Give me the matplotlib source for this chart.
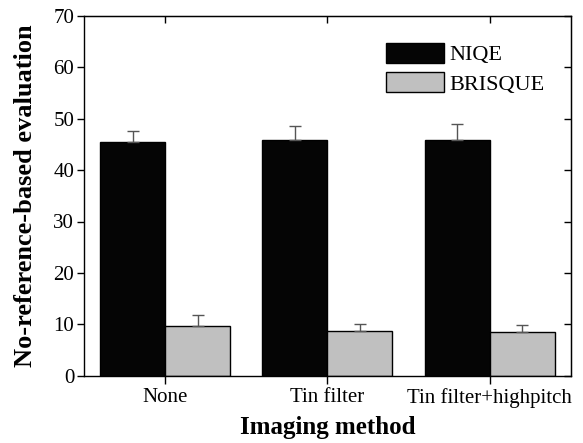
import matplotlib
matplotlib.use("Agg")
import matplotlib.pyplot as plt
import numpy as np

categories = ["None", "Tin filter", "Tin filter+highpitch"]
series_names = ["NIQE", "BRISQUE"]
niqe = [45.4, 45.9, 45.9]
niqe_err = [2.3, 2.7, 3.0]
brisque = [9.7, 8.7, 8.4]
brisque_err = [2.2, 1.4, 1.5]
yticks = [0, 10, 20, 30, 40, 50, 60, 70]

plt.rcParams['font.family'] = ['Liberation Serif', 'DejaVu Serif']

fig = plt.figure(figsize=(5.83, 4.43), dpi=100)
ax = fig.add_axes([0.144, 0.152, 0.835, 0.812])

x = np.arange(len(categories))
w = 0.4
err_kw = dict(ecolor='#555555', elinewidth=1.0, capsize=4, capthick=1.0)
ax.bar(x - w / 2, niqe, w, color='#050505', edgecolor='black', linewidth=1.0,
       yerr=[np.zeros(3), niqe_err], error_kw=err_kw, label=series_names[0])
ax.bar(x + w / 2, brisque, w, color='#c0c0c0', edgecolor='black', linewidth=1.0,
       yerr=[np.zeros(3), brisque_err], error_kw=err_kw, label=series_names[1])

ax.set_xlim(-0.5, 2.5)
ax.set_ylim(0, 70)
ax.set_yticks(yticks)
ax.set_xticks(x)
ax.set_xticklabels(categories, fontsize=15)
ax.tick_params(axis='y', direction='out', length=5, width=1, labelsize=15, pad=2, colors='black')
ax.tick_params(axis='x', direction='out', length=6, width=1, pad=3)
for s in ax.spines.values():
    s.set_linewidth(1.0)

sy = ax.secondary_yaxis('right')
sy.set_yticks(yticks)
sy.tick_params(direction='in', length=5, width=1, labelright=False)
sx = ax.secondary_xaxis('top')
sx.set_xticks(x)
sx.tick_params(direction='in', length=5, width=1, labeltop=False)

ax.set_xlabel("Imaging method", fontsize=18, fontweight='bold', labelpad=6)
ax.set_ylabel("No-reference-based evaluation", fontsize=19, fontweight='bold', labelpad=12)

ax.legend(loc='upper left', bbox_to_anchor=(0.62, 0.925), frameon=False, fontsize=16,
          handlelength=2.6, handleheight=1.0, handletextpad=0.25, labelspacing=0.3,
          borderpad=0, borderaxespad=0)

fig.savefig("out.png", dpi=100)
